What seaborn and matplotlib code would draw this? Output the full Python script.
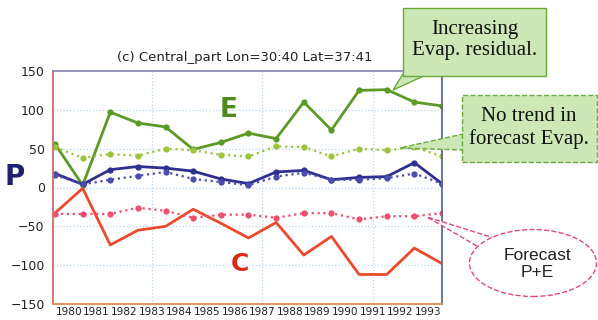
import matplotlib

matplotlib.use("Agg")
import matplotlib.pyplot as plt
import numpy as np
import pandas as pd
import seaborn as sns
from matplotlib.patches import Ellipse, Polygon, Rectangle

# point positions (year starts) and tick labels (year centres)
years = list(range(1980, 1995))
tick_years = list(range(1980, 1994))

e_obs = [56, 3, 97, 83, 78, 49, 58, 70, 63, 110, 74, 125, 126, 110, 105]
e_fcst = [52, 38, 43, 41, 50, 48, 42, 40, 53, 52, 40, 50, 48, 52, 40]
p_obs = [18, 4, 23, 27, 25, 21, 11, 5, 20, 22, 10, 13, 14, 32, 5]
p_fcst = [16, 4, 10, 15, 20, 11, 7, 3, 14, 19, 10, 10, 12, 18, 5]
c_obs = [-33, -1, -74, -55, -50, -28, -46, -65, -45, -87, -63, -112, -112, -78, -98]
c_fcst = [-34, -34, -34, -26, -30, -39, -35, -35, -39, -33, -33, -41, -37, -37, -33]

W, H = 598, 320


def fig_xy(x, y):
    # pixel position (from top-left) -> figure fraction
    return (x / W, 1 - y / H)


sns.set_style("white")
plt.rcParams["font.family"] = ["DejaVu Sans"]

fig = plt.figure(figsize=(W / 100, H / 100), dpi=100)
ax = fig.add_axes([53 / W, 1 - 304 / H, (442 - 53) / W, (304 - 71) / H])

series = [
    (e_obs, "#5c9a26", "-", 2.0, "o"),
    (e_fcst, "#9cc43a", ":", 1.6, "o"),
    (p_obs, "#2e2f8e", "-", 2.0, "o"),
    (p_fcst, "#4a4cb0", ":", 1.6, "o"),
    (c_obs, "#ec4a2c", "-", 2.0, None),
    (c_fcst, "#f0506e", ":", 1.6, "o"),
]
for values, color, style, width, marker in series:
    df = pd.DataFrame({"year": years, "value": values})
    sns.lineplot(
        data=df, x="year", y="value", ax=ax, color=color, linestyle=style,
        linewidth=width, marker=marker, markersize=4.5, markeredgewidth=0,
    )

ax.set_xlim(1980 - 2 / 27.65, 1994)
ax.set_ylim(-150, 150)
ax.set_yticks([-150, -100, -50, 0, 50, 100, 150])
ax.set_xticks([y + 0.5 for y in tick_years])
ax.set_xticklabels([str(y) for y in tick_years])
ax.set_xlabel("")
ax.set_ylabel("")
ax.tick_params(axis="x", direction="in", length=4, labelsize=7.6, pad=2, colors="#222222")
ax.tick_params(axis="y", direction="out", length=4, labelsize=9, pad=2, colors="#222222")

for y in [-100, -50, 0, 50, 100]:
    ax.axhline(y, color="#b8d4ee", linestyle=":", linewidth=0.9, zorder=0)
for x in [1983.5, 1987.5, 1991.5]:
    ax.axvline(x, color="#b8d4ee", linestyle=":", linewidth=0.9, zorder=0)

ax.spines["left"].set_color("#d06a6a")
ax.spines["top"].set_color("#8a8ab8")
ax.spines["right"].set_color("#5a6a9a")
ax.spines["bottom"].set_color("#e08a50")
for side in ax.spines.values():
    side.set_linewidth(1.3)

fig.text(*fig_xy(245, 58), "(c) Central_part Lon=30:40 Lat=37:41", ha="center",
         va="center", fontsize=9.5, color="#222222")

fig.text(*fig_xy(15, 177), "P", ha="center", va="center", fontsize=20,
         fontweight="bold", color="#1e2070")
fig.text(*fig_xy(229, 110), "E", ha="center", va="center", fontsize=19,
         fontweight="bold", color="#4f8a1e")
fig.text(*fig_xy(240, 264), "C", ha="center", va="center", fontsize=18,
         fontweight="bold", color="#d82a1a")

# callout 1: increasing evap residual
box_fill = "#cbe8b6"
fig.patches.append(Polygon([fig_xy(403, 74), fig_xy(428, 74), fig_xy(393, 90)],
                           closed=True, transform=fig.transFigure, facecolor=box_fill,
                           edgecolor="#6aaa3a", linewidth=1.0, zorder=3))
fig.patches.append(Rectangle(fig_xy(403, 76), 143 / W, 68 / H, transform=fig.transFigure,
                             facecolor=box_fill, edgecolor="#6aaa3a", linewidth=1.0, zorder=4))
fig.text(*fig_xy(475, 40), "Increasing\nEvap. residual.", ha="center", va="center",
         fontsize=15, family=["Liberation Serif"], linespacing=1.15, color="#111111",
         zorder=5)

# callout 2: no trend in forecast evap
fig.patches.append(Polygon([fig_xy(463, 134), fig_xy(463, 150), fig_xy(400, 148)],
                           closed=True, transform=fig.transFigure, facecolor=box_fill,
                           edgecolor="#6aaa3a", linewidth=1.0, linestyle="--", zorder=3))
fig.patches.append(Rectangle(fig_xy(462, 162), 135 / W, 67 / H, transform=fig.transFigure,
                             facecolor=box_fill, edgecolor="#6aaa3a", linewidth=1.0,
                             linestyle="--", zorder=4))
fig.text(*fig_xy(529, 128), "No trend in\nforecast Evap.", ha="center", va="center",
         fontsize=15, family=["Liberation Serif"], linespacing=1.15, color="#111111",
         zorder=5)

# callout 3: forecast P+E
fig.patches.append(Polygon([fig_xy(494, 238), fig_xy(482, 249), fig_xy(427, 217)],
                           closed=True, transform=fig.transFigure, facecolor="white",
                           edgecolor="#e04a80", linewidth=1.0, linestyle="--", zorder=3))
fig.patches.append(Ellipse(fig_xy(533, 263), 127 / W, 67 / H, transform=fig.transFigure,
                           facecolor="white", edgecolor="#e04a80", linewidth=1.0,
                           linestyle="--", zorder=4))
fig.text(*fig_xy(537, 264), "Forecast\nP+E", ha="center", va="center", fontsize=12.5,
         family=["Liberation Sans"], linespacing=1.2, color="#222222", zorder=5)

fig.savefig("out.png", dpi=100)
